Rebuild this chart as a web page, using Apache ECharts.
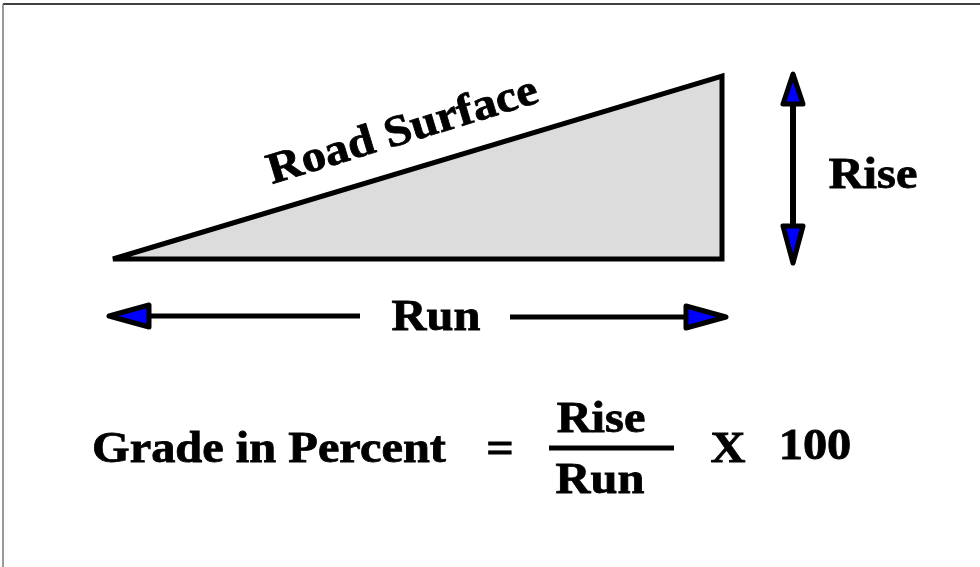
<!DOCTYPE html>
<html><head><meta charset="utf-8">
<script src="https://cdn.jsdelivr.net/npm/echarts@6/dist/echarts.min.js"></script>
<style>html,body{margin:0;padding:0;background:#fff}#c{width:980px;height:567px}</style>
</head><body><div id="c"></div>
<script>
// Diagram geometry (in diagram units = pixels of the 980x567 canvas)
const roadTriangle = [[113,259],[722,76],[722,259]];
const arrowShafts = [[[793,100],[793,230]], [[150,316],[360,316]], [[510,317],[688,317]]];
const arrowHeads = [
  [[793,74],[783,104],[803,104]],
  [[793,263],[783,226],[803,226]],
  [[109,316],[149,305],[149,327]],
  [[726,317],[686,306],[686,328]]
];
const fractionBar = [[549,448],[674,448]];
const frameLines = [[[3,4],[980,4]], [[3,4],[3,567]]];
const labels = [
  {text:'Road Surface', pos:[403,132], size:44, rot:17},
  {text:'Rise', pos:[873,177], size:44, rot:0},
  {text:'Run', pos:[436,319], size:44, rot:0},
  {text:'Grade in Percent', pos:[269,451], size:44, rot:0},
  {text:'=', pos:[500,451], size:44, rot:0},
  {text:'Rise', pos:[601,421], size:44, rot:0},
  {text:'Run', pos:[600,482], size:44, rot:0},
  {text:'X', pos:[728,451], size:44, rot:0},
  {text:'100', pos:[815,448], size:44, rot:0}
];
const FONT = '"Liberation Serif","Times New Roman",serif';
const STRETCH = 1.1;

const chart = echarts.init(document.getElementById('c'), null, {renderer:'canvas'});
const idx = a => a.map((_, i) => [i]);
const pts = (api, list) => list.map(p => api.coord(p));

chart.setOption({
  animation:false,
  grid:{left:0,right:0,top:0,bottom:0},
  xAxis:{type:'value',min:0,max:980,show:false},
  yAxis:{type:'value',min:0,max:567,inverse:true,show:false},
  series:[
    {type:'custom', data:idx(frameLines), renderItem:(p,api)=>{
      const l = frameLines[p.dataIndex];
      const a = api.coord(l[0]), b = api.coord(l[1]);
      return {type:'line', shape:{x1:a[0],y1:a[1],x2:b[0],y2:b[1]},
        style:{stroke: p.dataIndex===0 ? '#000' : '#777', lineWidth:1.5}};
    }},
    {type:'custom', data:[[0]], renderItem:(p,api)=>({
      type:'polygon', shape:{points:pts(api, roadTriangle)},
      style:{fill:'#dcdcdc', stroke:'#000', lineWidth:5, lineJoin:'miter', miterLimit:2}
    })},
    {type:'custom', data:idx(arrowShafts), renderItem:(p,api)=>{
      const l = arrowShafts[p.dataIndex];
      const a = api.coord(l[0]), b = api.coord(l[1]);
      return {type:'line', shape:{x1:a[0],y1:a[1],x2:b[0],y2:b[1]}, style:{stroke:'#000', lineWidth: p.dataIndex===0 ? 6 : 5}};
    }},
    {type:'custom', data:idx(arrowHeads), renderItem:(p,api)=>({
      type:'polygon', shape:{points:pts(api, arrowHeads[p.dataIndex])},
      style:{fill:'#0000ff', stroke:'#000', lineWidth:5, lineJoin:'round'}
    })},
    {type:'custom', data:[[0]], renderItem:(p,api)=>{
      const a = api.coord(fractionBar[0]), b = api.coord(fractionBar[1]);
      return {type:'line', shape:{x1:a[0],y1:a[1],x2:b[0],y2:b[1]}, style:{stroke:'#000', lineWidth:5}};
    }},
    {type:'custom', data:idx(labels), renderItem:(p,api)=>{
      const L = labels[p.dataIndex];
      const c = api.coord(L.pos);
      return {type:'text', x:c[0], y:c[1], rotation:L.rot*Math.PI/180, scaleX:STRETCH, scaleY:1,
        style:{text:L.text, fill:'#000', stroke:'#000', lineWidth:0.8, font:'bold '+L.size+'px '+FONT, align:'center', verticalAlign:'middle'}};
    }}
  ]
});
</script></body></html>
